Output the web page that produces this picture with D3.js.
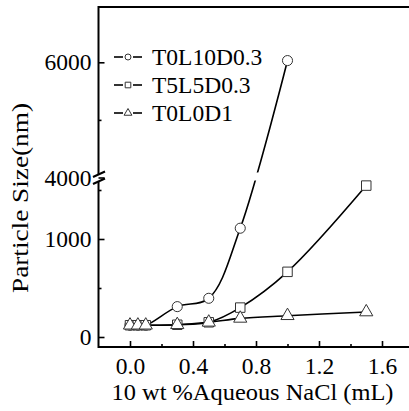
<!DOCTYPE html>
<html>
<head>
<meta charset="utf-8">
<script src="https://cdn.jsdelivr.net/npm/d3@7"></script>
<style>
  body { margin: 0; background: #fff; }
  svg { display: block; }
  text { font-family: "Liberation Serif", "Times New Roman", serif; fill: #000; }
</style>
</head>
<body>
<div id="chart"></div>
<script>
// data
const xValues = [0, 0.05, 0.1, 0.3, 0.5, 0.7, 1.0, 1.5];
const seriesNames = ['T0L10D0.3', 'T5L5D0.3', 'T0L0D1'];
const sizeT0L10 = [120, 120, 120, 310, 395, 1110, 6030, null];
const sizeT5L5 = [120, 120, 120, 125, 150, 300, 665, 1545];
const sizeT0L0 = [120, 120, 120, 125, 150, 190, 217, 255];
const xTicks = [0, 0.4, 0.8, 1.2, 1.6];
const xMinor = [0.2, 0.6, 1.0, 1.4];
const yLowTicks = [0, 1000];
const yLowMinor = [500, 1500];
const yHighTicks = [4000, 6000];
const yHighMinor = [5000];

const width = 409, height = 411;
const fontSize = '23.5px';
const svg = d3.select('#chart').append('svg')
  .attr('width', width)
  .attr('height', height);

const x = d3.scaleLinear().domain([-0.2, 1.8]).range([98.5, 413.5]);
const yLow = d3.scaleLinear().domain([-100, 1600]).range([346.8, 180.2]);
const yHigh = d3.scaleLinear().domain([4000, 6960]).range([177.5, 7]);
const y = v => v <= 2000 ? yLow(v) : yHigh(v);

const axisLeftX = 98.5, axisBottomY = 347;

// clip for the break gap
const defs = svg.append('defs');
const clip = defs.append('clipPath').attr('id', 'breakClip');
clip.append('rect').attr('x', 0).attr('y', 0).attr('width', width).attr('height', 172.5);
clip.append('rect').attr('x', 0).attr('y', 180.5).attr('width', width).attr('height', height);

// axes
function styleAxis(g) {
  g.select('.domain').remove();
  g.selectAll('.tick line').attr('stroke', '#000').attr('stroke-width', 1.6);
  g.selectAll('text').style('font-size', fontSize).attr('fill', '#000');
}

svg.append('g')
  .attr('transform', `translate(0,${axisBottomY})`)
  .call(d3.axisBottom(x).tickValues(xTicks).tickSize(-6).tickPadding(10).tickFormat(d3.format('.1f')))
  .call(styleAxis);
svg.append('g')
  .attr('transform', `translate(0,${axisBottomY})`)
  .call(d3.axisBottom(x).tickValues(xMinor).tickSize(-3).tickFormat(''))
  .call(styleAxis);

svg.append('g')
  .attr('transform', `translate(${axisLeftX},0)`)
  .call(d3.axisLeft(yLow).tickValues(yLowTicks).tickSize(-6).tickPadding(7).tickFormat(d3.format('d')))
  .call(styleAxis);
svg.append('g')
  .attr('transform', `translate(${axisLeftX},0)`)
  .call(d3.axisLeft(yLow).tickValues(yLowMinor).tickSize(-3).tickFormat(''))
  .call(styleAxis);
svg.append('g')
  .attr('transform', `translate(${axisLeftX},0)`)
  .call(d3.axisLeft(yHigh).tickValues(yHighTicks).tickSize(-6).tickPadding(7).tickFormat(d3.format('d')))
  .call(styleAxis);
svg.append('g')
  .attr('transform', `translate(${axisLeftX},0)`)
  .call(d3.axisLeft(yHigh).tickValues(yHighMinor).tickSize(-3).tickFormat(''))
  .call(styleAxis);

// axis lines
const axisLines = svg.append('g').attr('stroke', '#000').attr('stroke-width', 2).attr('fill', 'none');
axisLines.append('line').attr('x1', axisLeftX).attr('x2', width).attr('y1', axisBottomY).attr('y2', axisBottomY);
axisLines.append('line').attr('x1', axisLeftX).attr('x2', width).attr('y1', 7).attr('y2', 7);
axisLines.append('line').attr('x1', axisLeftX).attr('x2', axisLeftX).attr('y1', 6).attr('y2', 174);
axisLines.append('line').attr('x1', axisLeftX).attr('x2', axisLeftX).attr('y1', 181).attr('y2', axisBottomY + 1);
// break marks
axisLines.append('line').attr('x1', 93).attr('y1', 177).attr('x2', 105).attr('y2', 171.5);
axisLines.append('line').attr('x1', 93).attr('y1', 184).attr('x2', 105).attr('y2', 178.5);

// axis titles (stretched a little, the original font runs wide)
svg.append('text')
  .attr('x', 252.5).attr('y', 400)
  .attr('text-anchor', 'middle')
  .attr('textLength', 282)
  .attr('lengthAdjust', 'spacingAndGlyphs')
  .style('font-size', '23px')
  .text('10 wt %Aqueous NaCl (mL)');
svg.append('text')
  .attr('transform', 'translate(28,198) rotate(-90)')
  .attr('text-anchor', 'middle')
  .attr('textLength', 190)
  .attr('lengthAdjust', 'spacingAndGlyphs')
  .style('font-size', '23px')
  .text('Particle Size(nm)');

// series
const series = [
  { name: seriesNames[0], values: sizeT0L10, symbol: d3.symbolCircle, size: 80 },
  { name: seriesNames[1], values: sizeT5L5, symbol: d3.symbolSquare, size: 90 },
  { name: seriesNames[2], values: sizeT0L0, symbol: d3.symbolTriangle, size: 75 }
];

const line = d3.line()
  .defined(d => d[1] != null)
  .x(d => x(d[0]))
  .y(d => y(d[1]))
  .curve(d3.curveCatmullRom.alpha(0.5));

const lines = svg.append('g').attr('clip-path', 'url(#breakClip)');
series.forEach(s => {
  const pts = xValues.map((xv, i) => [xv, s.values[i]]);
  lines.append('path')
    .datum(pts)
    .attr('fill', 'none')
    .attr('stroke', '#000')
    .attr('stroke-width', 1.6)
    .attr('d', line);
});

series.forEach(s => {
  const pts = xValues.map((xv, i) => [xv, s.values[i]]).filter(d => d[1] != null);
  svg.append('g').selectAll('path')
    .data(pts)
    .enter().append('path')
    .attr('transform', d => `translate(${x(d[0])},${y(d[1])})`)
    .attr('d', d3.symbol().type(s.symbol).size(s.size))
    .attr('fill', '#fff')
    .attr('stroke', '#333')
    .attr('stroke-width', 1);
});

// legend
const legend = svg.append('g');
series.forEach((s, i) => {
  const ly = 57 + i * 28;
  legend.append('line')
    .attr('x1', 114).attr('x2', 123).attr('y1', ly).attr('y2', ly)
    .attr('stroke', '#000').attr('stroke-width', 1.6);
  legend.append('line')
    .attr('x1', 133).attr('x2', 142).attr('y1', ly).attr('y2', ly)
    .attr('stroke', '#000').attr('stroke-width', 1.6);
  legend.append('path')
    .attr('transform', `translate(128,${ly})`)
    .attr('d', d3.symbol().type(s.symbol).size(s.size * 0.35))
    .attr('fill', '#fff')
    .attr('stroke', '#333')
    .attr('stroke-width', 1);
  legend.append('text')
    .attr('x', 152).attr('y', ly + 7.5)
    .style('font-size', fontSize)
    .text(s.name);
});
</script>
</body>
</html>
